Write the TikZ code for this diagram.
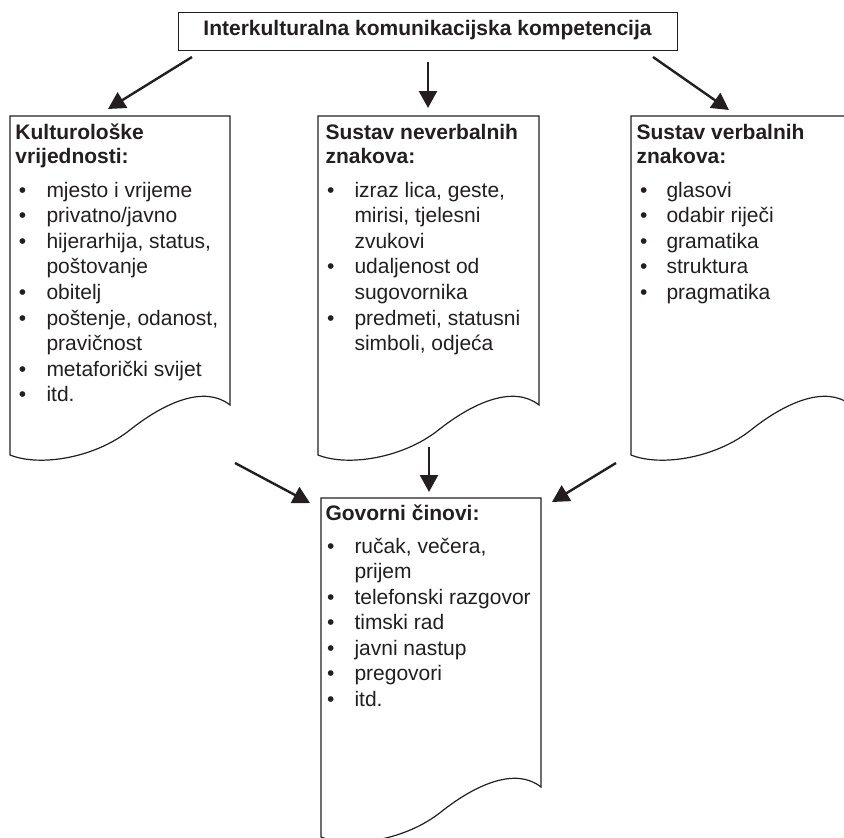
\documentclass[tikz,border=0pt]{standalone}
\usepackage{fontspec}
\setmainfont{Liberation Sans}
\usetikzlibrary{arrows.meta}
\definecolor{ink}{RGB}{35,31,32}
\tikzset{
  docline/.style={draw=ink, line width=1.2pt, line join=miter},
  boxline/.style={draw=ink, line width=1.4pt},
  arr/.style={draw=ink, line width=2.4pt, -{Triangle[length=17pt,width=18pt]}},
  txt/.style={inner sep=0pt, outer sep=0pt, text=ink, anchor=base west, font=\fontsize{21}{25}\selectfont},
  ttl/.style={txt, font=\fontsize{21}{25}\selectfont\bfseries},
  frame/.style={inner sep=0pt, outer sep=0pt, anchor=north west, minimum width=#1, minimum height=339pt},
}
% document shape drawn around a named frame node: #1 name
\newcommand\docoutline[2]{%
  \draw[docline] (#1.north west) -- (#1.north east) -- ($(#1.north east)+(0,289)$)
    .. controls ($(#1.north west)+(0.886*#2,269)$) and ($(#1.north west)+(0.705*#2,286)$) .. ($(#1.north west)+(0.545*#2,314)$)
    .. controls ($(#1.north west)+(0.386*#2,342)$) and ($(#1.north west)+(0.136*#2,351)$) .. ($(#1.north west)+(0,339)$)
    -- cycle;}
\newcommand\tline[4]{\node[txt] (#1) at (#2,#3) {#4};}
\newcommand\ttline[4]{\node[ttl] (#1) at (#2,#3) {#4};}
\newcommand\bitem[5]{\node[txt] (#1b) at (#2,#4) {•};\node[txt] (#1t) at (#3,#4) {#5};}
\usetikzlibrary{calc}
\begin{document}
\begin{tikzpicture}[x=1pt,y=-1pt]
\useasboundingbox (0,0) rectangle (844,838);
\fill[white] (0,0) rectangle (844,838);

% top box
\node[boxline, minimum width=499pt, minimum height=38pt, inner sep=0pt, anchor=north west] (top) at (178,12) {};
\node[ttl, anchor=base] (toptxt) at (427.5,35) {Interkulturalna komunikacijska kompetencija};

% document frames
\node[frame=220pt] (kult) at (10,116) {};
\node[frame=221pt] (nev) at (318,116) {};
\node[frame=220pt] (verb) at (631,116) {};
\node[frame=220pt] (gov) at (321,498) {};
\docoutline{kult}{220}
\docoutline{nev}{221}
\docoutline{verb}{220}
\docoutline{gov}{220}

% arrows
\coordinate (a1s) at (192,57);  \coordinate (a1e) at (108,109);
\coordinate (a2s) at (428,62);  \coordinate (a2e) at (428,108);
\coordinate (a3s) at (653,57);  \coordinate (a3e) at (729,110);
\coordinate (a4s) at (235,463); \coordinate (a4e) at (310,503);
\coordinate (a5s) at (429,447); \coordinate (a5e) at (429,492);
\coordinate (a6s) at (616,463); \coordinate (a6e) at (552,502);
\draw[arr] (a1s) -- (a1e);
\draw[arr] (a2s) -- (a2e);
\draw[arr] (a3s) -- (a3e);
\draw[arr] (a4s) -- (a4e);
\draw[arr] (a5s) -- (a5e);
\draw[arr] (a6s) -- (a6e);

% left document
\ttline{k1}{15.5}{139}{Kulturološke}
\ttline{k2}{15.5}{163.5}{vrijednosti:}
\bitem{ki0}{19}{46.5}{197}{mjesto i vrijeme}
\bitem{ki1}{19}{46.5}{222.6}{privatno/javno}
\bitem{ki2}{19}{46.5}{248.2}{hijerarhija, status,}
\tline{ki3}{46.5}{273.8}{poštovanje}
\bitem{ki4}{19}{46.5}{299.4}{obitelj}
\bitem{ki5}{19}{46.5}{325}{poštenje, odanost,}
\tline{ki6}{46.5}{350.6}{pravičnost}
\bitem{ki7}{19}{46.5}{376.2}{metaforički svijet}
\bitem{ki8}{19}{46.5}{401.8}{itd.}

% middle document
\ttline{n1}{325.5}{139}{Sustav neverbalnih}
\ttline{n2}{325.5}{163.5}{znakova:}
\bitem{ni0}{327}{354.5}{197}{izraz lica, geste,}
\tline{ni1}{354.5}{222.6}{mirisi, tjelesni}
\tline{ni2}{354.5}{248.2}{zvukovi}
\bitem{ni3}{327}{354.5}{273.8}{udaljenost od}
\tline{ni4}{354.5}{299.4}{sugovornika}
\bitem{ni5}{327}{354.5}{325}{predmeti, statusni}
\tline{ni6}{354.5}{350.6}{simboli, odjeća}

% right document
\ttline{v1}{636.5}{139}{Sustav verbalnih}
\ttline{v2}{636.5}{163.5}{znakova:}
\bitem{vi0}{640}{666.5}{197}{glasovi}
\bitem{vi1}{640}{666.5}{222.6}{odabir riječi}
\bitem{vi2}{640}{666.5}{248.2}{gramatika}
\bitem{vi3}{640}{666.5}{273.8}{struktura}
\bitem{vi4}{640}{666.5}{299.4}{pragmatika}

% bottom document
\ttline{g1}{325.5}{520}{Govorni činovi:}
\bitem{gi0}{327}{354.5}{553}{ručak, večera,}
\tline{gi1}{354.5}{578.5}{prijem}
\bitem{gi2}{327}{354.5}{604}{telefonski razgovor}
\bitem{gi3}{327}{354.5}{629.5}{timski rad}
\bitem{gi4}{327}{354.5}{655}{javni nastup}
\bitem{gi5}{327}{354.5}{680.5}{pregovori}
\bitem{gi6}{327}{354.5}{706}{itd.}
\end{tikzpicture}
\end{document}
